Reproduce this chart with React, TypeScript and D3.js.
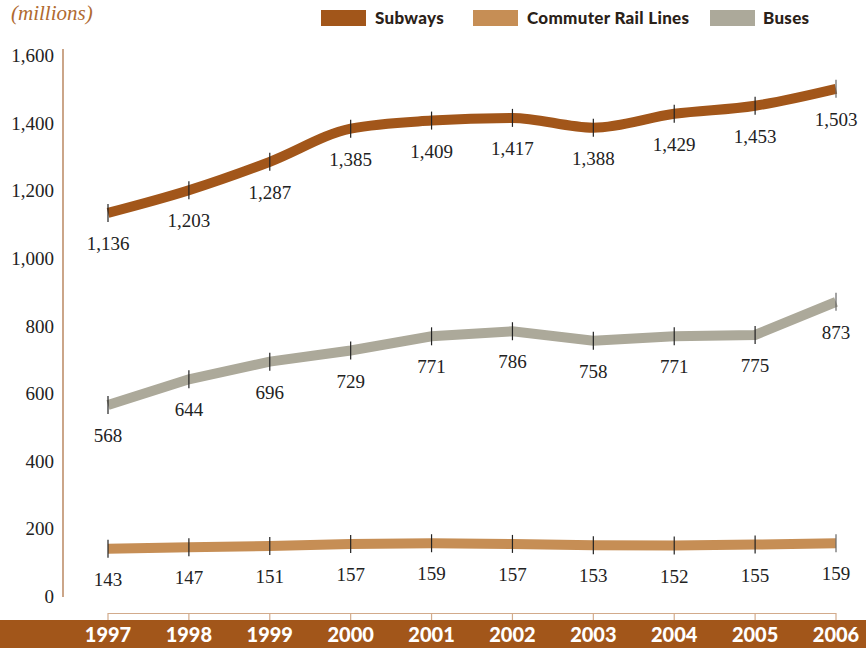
import React from "react";
import * as d3 from "d3";

const years = ["1997","1998","1999","2000","2001","2002","2003","2004","2005","2006"];
const subways = [1136,1203,1287,1385,1409,1417,1388,1429,1453,1503];
const buses = [568,644,696,729,771,786,758,771,775,873];
const commuter = [143,147,151,157,159,157,153,152,155,159];
const yTicks = [0,200,400,600,800,1000,1200,1400,1600];
const legendNames = ["Subways","Commuter Rail Lines","Buses"];

const W = 866, H = 648;
const COL_SUB = "#a2561a";
const COL_COM = "#c68e55";
const COL_BUS = "#aca99a";
const AXIS = "#a86a3a";
const SERIF = "'Liberation Serif', 'DejaVu Serif', serif";
const SANS = "Lato, 'DejaVu Sans', sans-serif";

export default function App() {
  const x = d3.scalePoint<string>().domain(years).range([108, 836]);
  const y = d3.scaleLinear().domain([0, 1600]).range([597, 56]);
  const fmt = d3.format(",");

  const series = [
    { name: legendNames[0], values: subways, color: COL_SUB, curve: d3.curveMonotoneX, tick: "#222" },
    { name: legendNames[2], values: buses, color: COL_BUS, curve: d3.curveLinear, tick: "#222" },
    { name: legendNames[1], values: commuter, color: COL_COM, curve: d3.curveLinear, tick: "#222" },
  ];

  const legend = [
    { name: legendNames[0], color: COL_SUB, bx: 321, tx: 375 },
    { name: legendNames[1], color: COL_COM, bx: 473, tx: 527 },
    { name: legendNames[2], color: COL_BUS, bx: 710, tx: 763 },
  ];

  return (
    <svg width={W} height={H} style={{ position: "absolute", left: 0, top: 0, background: "#fff" }}>
      <text x={11} y={20} fontFamily={SERIF} fontStyle="italic" fontSize={21} fill="#b06a30">(millions)</text>

      {legend.map((l) => (
        <g key={l.name}>
          <rect x={l.bx} y={10} width={45} height={16} fill={l.color} />
          <text x={l.tx} y={24} fontFamily={SANS} fontWeight={900} fontSize={17} letterSpacing={0.3} fill="#2a2118">{l.name}</text>
        </g>
      ))}

      {/* y axis */}
      <line x1={63} x2={63} y1={49} y2={597} stroke={AXIS} strokeWidth={1.2} />
      {yTicks.map((t) => (
        <text key={t} x={54} y={y(t) + 6} textAnchor="end" fontFamily={SERIF} fontSize={19} fill="#222">{fmt(t)}</text>
      ))}

      {/* series */}
      {series.map((s) => {
        const line = d3.line<number>().x((_, i) => x(years[i])!).y((v) => y(v)).curve(s.curve);
        return (
          <g key={s.name}>
            <path d={line(s.values) || ""} fill="none" stroke={s.color} strokeWidth={10} />
            {s.values.map((v, i) => (
              <line key={"t" + i} x1={x(years[i])!} x2={x(years[i])!} y1={y(v) - 9} y2={y(v) + 9} stroke={i === years.length - 1 ? "#666" : s.tick} strokeWidth={1.2} />
            ))}
            {s.values.map((v, i) => (
              <text key={"l" + i} x={x(years[i])!} y={y(v) + 37} textAnchor="middle" fontFamily={SERIF} fontSize={19} fill="#222">{fmt(v)}</text>
            ))}
          </g>
        );
      })}

      {/* bottom bracket */}
      <line x1={x(years[0])!} x2={x(years[years.length - 1])!} y1={613.5} y2={613.5} stroke="#d2ab8c" strokeWidth={1.2} />
      {years.map((yr) => (
        <line key={yr} x1={x(yr)!} x2={x(yr)!} y1={613} y2={620} stroke="#d2ab8c" strokeWidth={1.2} />
      ))}
      <rect x={0} y={620} width={W} height={28} fill={COL_SUB} />
      {years.map((yr) => (
        <text key={"y" + yr} x={x(yr)!} y={642} textAnchor="middle" fontFamily={SANS} fontWeight={900} fontSize={20} fill="#fff">{yr}</text>
      ))}
    </svg>
  );
}
